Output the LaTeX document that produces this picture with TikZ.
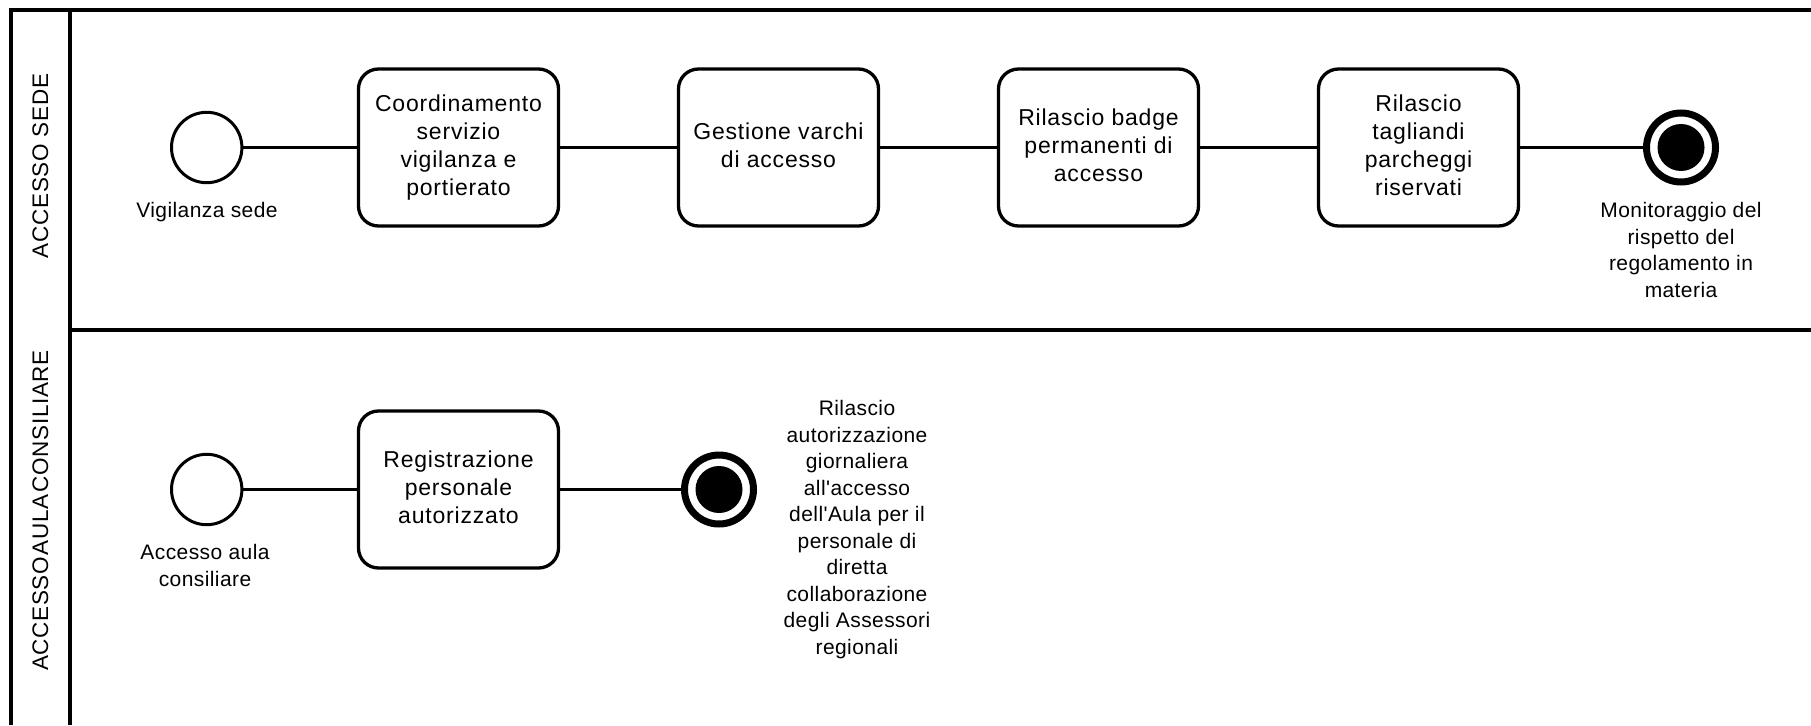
\documentclass[tikz,border=0pt]{standalone}
\usepackage{fontspec}
\setmainfont{Liberation Sans}[Ligatures=TeXOff]
\newfontfamily\taskfont{Liberation Sans}[Ligatures=TeXOff, LetterSpace=3.5]
\newfontfamily\lanefont{Liberation Sans}[Ligatures=TeXOff, LetterSpace=3]
\newfontfamily\labelfont{Liberation Sans}[Ligatures=TeXOff, LetterSpace=2]
\begin{document}
\begin{tikzpicture}[x=1pt,y=-1pt,
  task/.style={draw, line width=3.3pt, rounded corners=20pt, minimum width=200pt, minimum height=157pt, inner sep=0pt, align=center, font=\taskfont\fontsize{23}{28}\selectfont},
  startev/.style={draw, circle, line width=3pt, minimum size=70.4pt, inner sep=0pt},
  endev/.style={draw, circle, line width=7pt, minimum size=69pt, inner sep=0pt},
  enddot/.style={circle, fill=black, minimum size=47pt, inner sep=0pt},
  lbl/.style={align=center, font=\labelfont\fontsize{21}{26.5}\selectfont, inner sep=0pt},
  lanelbl/.style={rotate=90, font=\lanefont\fontsize{22.5}{28}\selectfont, inner sep=0pt},
  flow/.style={line width=3pt},
  frame/.style={line width=4pt}
]
\useasboundingbox (0,0) rectangle (1811,725);
\fill[white] (0,0) rectangle (1811,725);

% pool and lanes
\draw[frame] (11.3,725) -- (11.3,10.3) -- (1811,10.3);
\draw[frame] (70.3,10.3) -- (70.3,725);
\draw[frame] (70.3,329.7) -- (1811,329.7);
\node[lanelbl] (h1) at (40.5,166) {ACCESSO SEDE};
\node[lanelbl] (h2) at (40.5,510.5) {{\spaceskip=0.08em ACCESSO AULA CONSILIARE}};

% lane 1
\node[startev] (s1) at (206.7,147.5) {};
\node[task] (t1) at (458.5,147.5) {\strut Coordinamento\\servizio\\vigilanza e\\portierato\strut};
\node[task] (t2) at (778.5,147.5) {\strut Gestione varchi\\di accesso\strut};
\node[task] (t3) at (1098.5,147.5) {\strut Rilascio badge\\permanenti di\\accesso\strut};
\node[task] (t4) at (1418.5,147.5) {\strut Rilascio\\tagliandi\\parcheggi\\riservati\strut};
\node[endev] (e1) at (1681,147.5) {};
\node[enddot] (e1dot) at (e1) {};
\node[lbl] (l1) at (207,212.2) {\strut Vigilanza sede\strut};
\node[lbl] (l2) at (1681,252) {\strut Monitoraggio del\\rispetto del\\regolamento in\\materia\strut};

\draw[flow] (s1) -- (t1);
\draw[flow] (t1) -- (t2);
\draw[flow] (t2) -- (t3);
\draw[flow] (t3) -- (t4);
\draw[flow] (t4) -- (e1);

% lane 2
\node[startev] (s2) at (206.7,489.5) {};
\node[task] (t5) at (458.5,489.5) {\strut Registrazione\\personale\\autorizzato\strut};
\node[endev] (e2) at (719,489.5) {};
\node[enddot] (e2dot) at (e2) {};
\node[lbl] (l3) at (205,567.5) {\strut Accesso aula\\consiliare\strut};
\node[lbl] (l4) at (857,529.5) {\strut Rilascio\\autorizzazione\\giornaliera\\all'accesso\\dell'Aula per il\\personale di\\diretta\\collaborazione\\degli Assessori\\regionali\strut};

\draw[flow] (s2) -- (t5);
\draw[flow] (t5) -- (e2);
\end{tikzpicture}
\end{document}
